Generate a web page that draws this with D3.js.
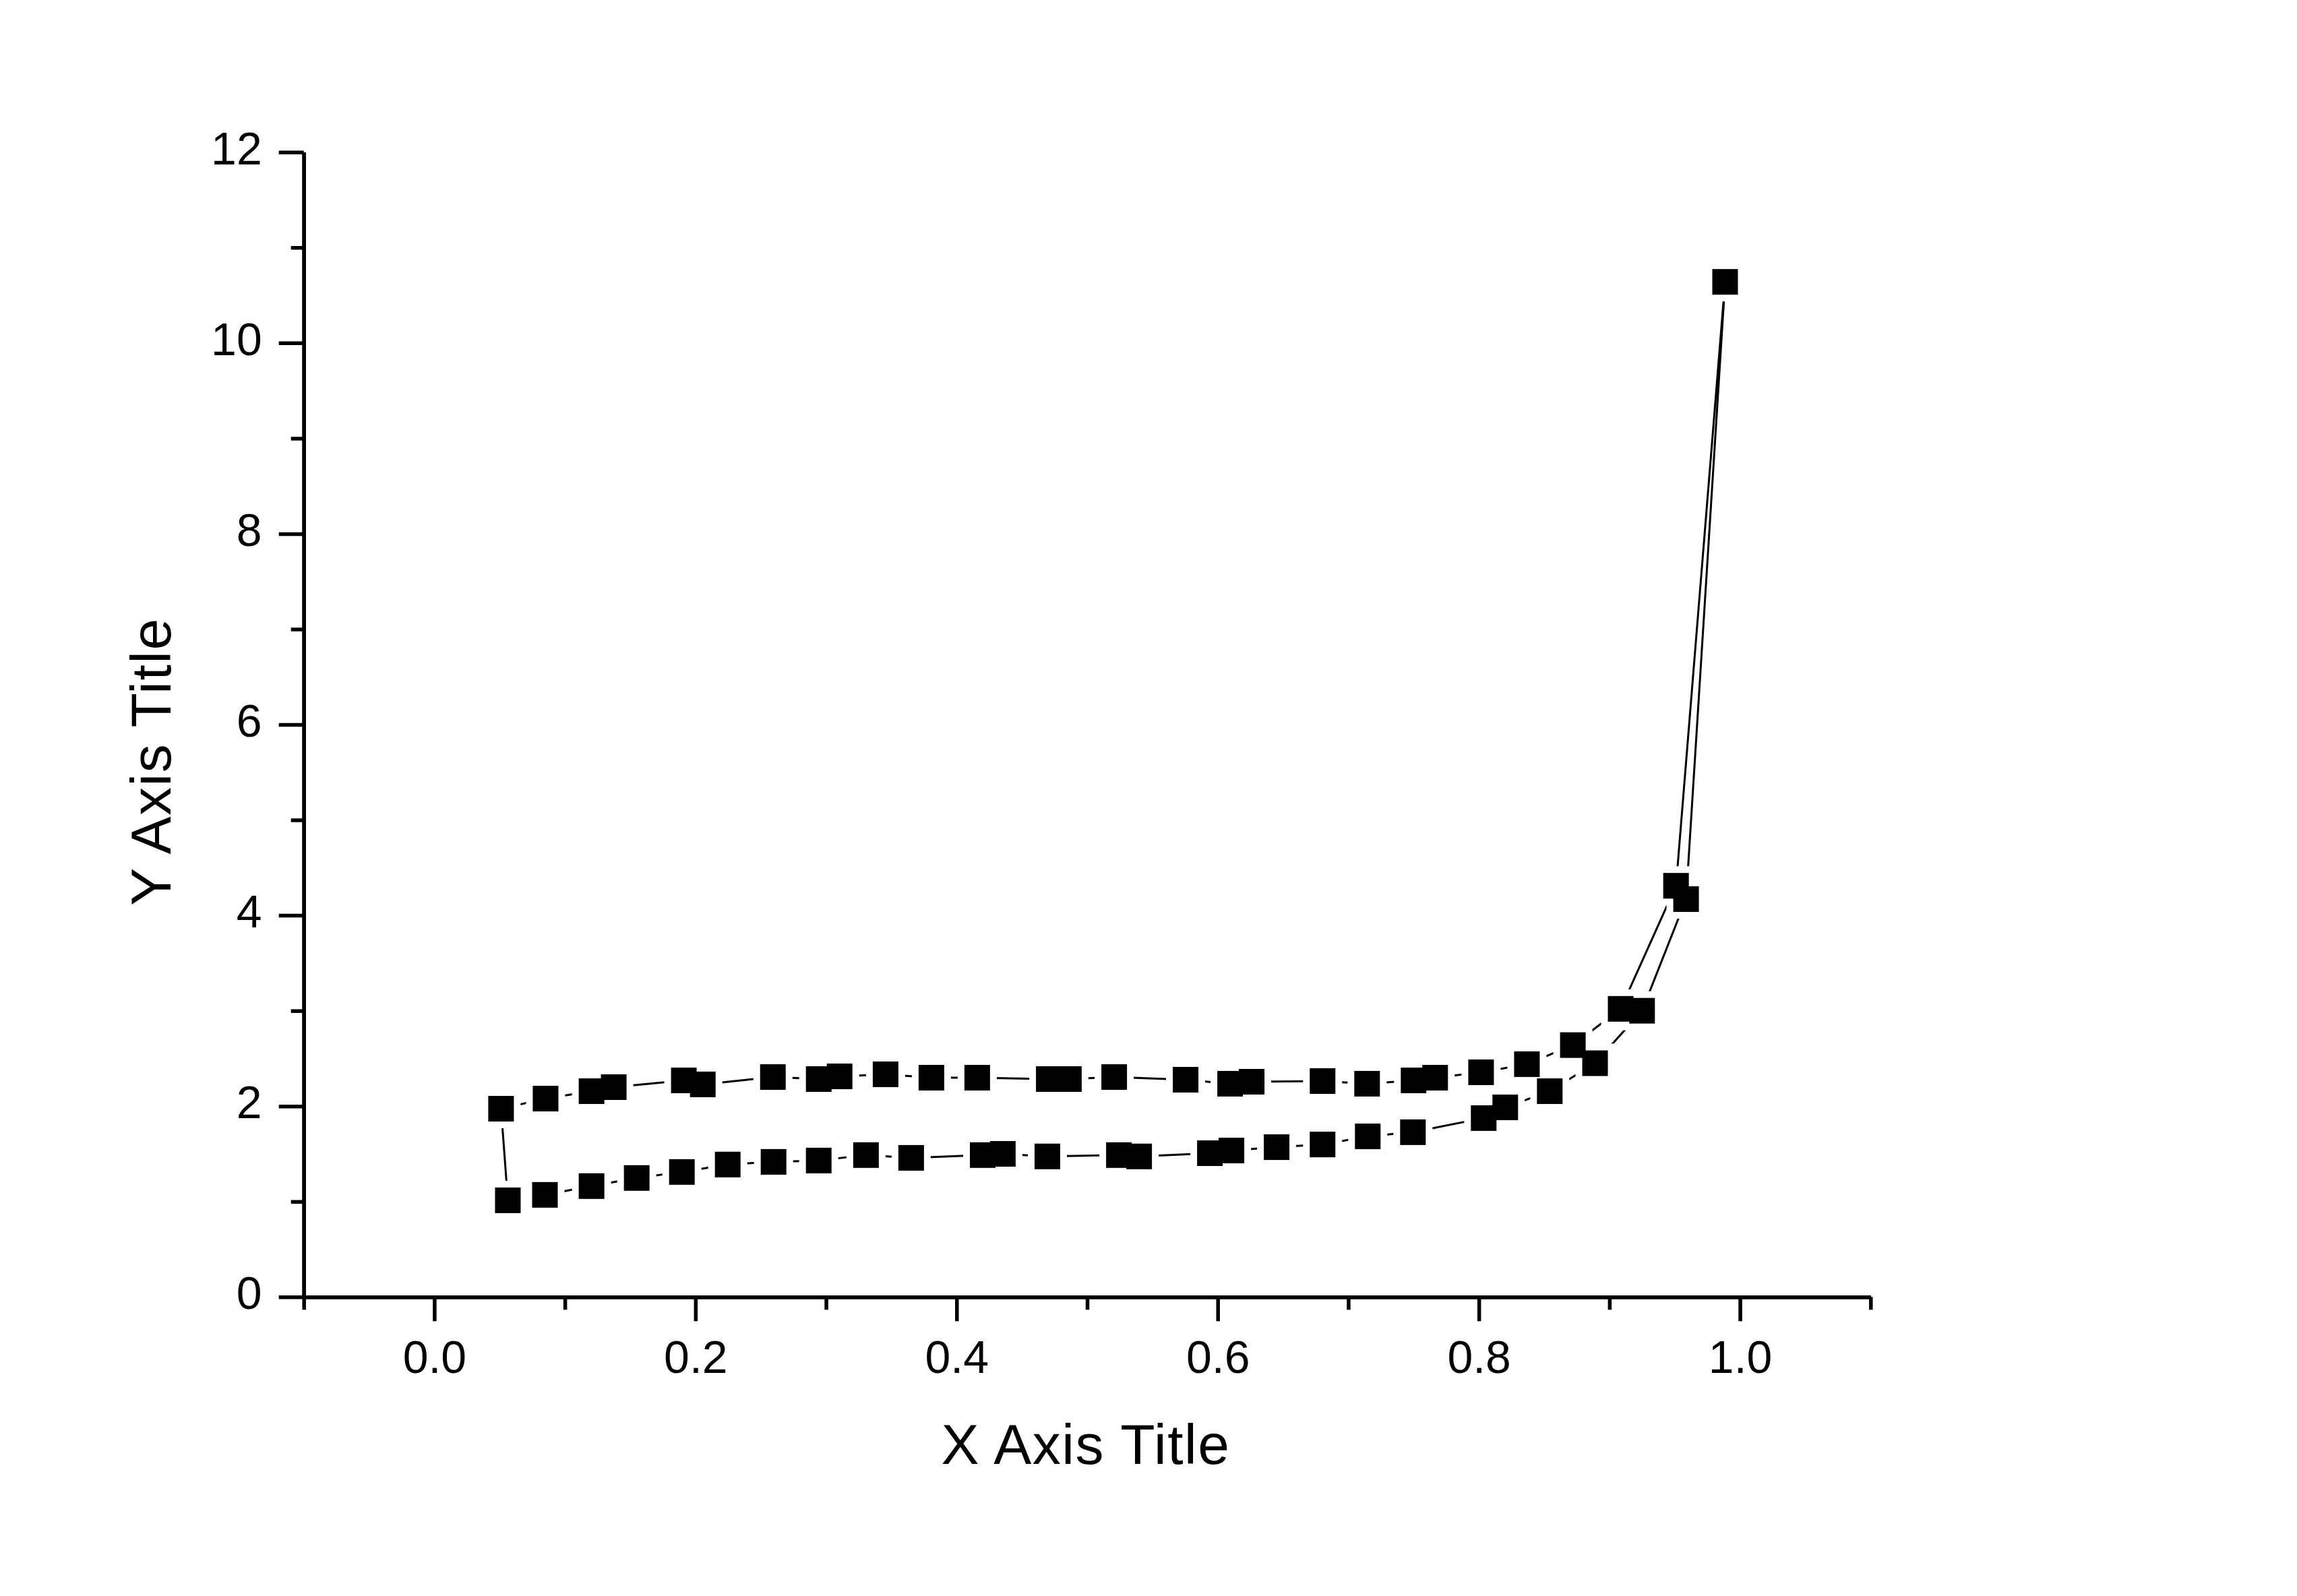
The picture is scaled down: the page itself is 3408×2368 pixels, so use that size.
<!DOCTYPE html>
<html>
<head>
<meta charset="utf-8">
<script src="https://cdn.jsdelivr.net/npm/d3@7"></script>
<style>
  html, body { margin: 0; padding: 0; background: #fff; }
  svg { display: block; }
  text { font-family: "Liberation Sans", Arial, sans-serif; fill: #000; }
</style>
</head>
<body>
<script>
// ---- data ----
const lowerX = [0.0563, 0.0847, 0.1204, 0.155, 0.1896, 0.2247, 0.2598, 0.2944, 0.3306, 0.3652,
                0.42, 0.4354, 0.4695, 0.5243, 0.5398, 0.594, 0.6105, 0.6451, 0.6803, 0.7149,
                0.7495, 0.8037, 0.8202, 0.8543, 0.889, 0.925, 0.9587];
const lowerY = [1.013, 1.07, 1.162, 1.247, 1.31, 1.388, 1.416, 1.43, 1.487, 1.458,
                1.487, 1.50, 1.473, 1.487, 1.473, 1.507, 1.535, 1.57, 1.598, 1.683,
                1.727, 1.875, 1.987, 2.157, 2.45, 3.00, 4.17];
const peakX = [0.9886];
const peakY = [10.64];
const upperX = [0.951, 0.9086, 0.872, 0.8368, 0.8017, 0.7665, 0.75, 0.7144, 0.6803, 0.626,
                0.6095, 0.5754, 0.5207, 0.486, 0.4706, 0.4158, 0.3807, 0.3456, 0.3104, 0.2944,
                0.2593, 0.2056, 0.1911, 0.1374, 0.1204, 0.0852, 0.0511];
const upperY = [4.31, 3.02, 2.64, 2.44, 2.355, 2.298, 2.27, 2.235, 2.263, 2.256,
                2.235, 2.277, 2.305, 2.284, 2.284, 2.298, 2.298, 2.334, 2.312, 2.284,
                2.305, 2.228, 2.27, 2.199, 2.157, 2.079, 1.973];

const xMajorTicks = [0.0, 0.2, 0.4, 0.6, 0.8, 1.0];
const xMinorTicks = [-0.1, 0.1, 0.3, 0.5, 0.7, 0.9, 1.1];
const yMajorTicks = [0, 2, 4, 6, 8, 10, 12];
const yMinorTicks = [1, 3, 5, 7, 9, 11];
const xTitle = "X Axis Title";
const yTitle = "Y Axis Title";

// ---- layout ----
const W = 3408, H = 2368;
const plotLeft = 450.7, plotRight = 2775.3, plotTop = 225.7, plotBottom = 1924.3;
const fontTick = 68, fontTitle = 84;
const axisW = 5.5, lineW = 3, markerSize = 38, gap = 10;

const svg = d3.select("body").append("svg")
  .attr("width", W).attr("height", H)
  .attr("viewBox", `0 0 ${W} ${H}`);
svg.append("rect").attr("width", W).attr("height", H).attr("fill", "#fff");

const x = d3.scaleLinear().domain([-0.1, 1.1]).range([plotLeft, plotRight]);
const y = d3.scaleLinear().domain([0, 12]).range([plotBottom, plotTop]);

// ---- data path ----
const pts = [];
lowerX.forEach((v, i) => pts.push([v, lowerY[i]]));
peakX.forEach((v, i) => pts.push([v, peakY[i]]));
upperX.forEach((v, i) => pts.push([v, upperY[i]]));

const line = d3.line().x(d => x(d[0])).y(d => y(d[1])).curve(d3.curveLinearClosed);
svg.append("path").attr("d", line(pts))
  .attr("fill", "none").attr("stroke", "#000").attr("stroke-width", lineW)
  .attr("stroke-linejoin", "round");

// gaps around markers
svg.append("g").selectAll("rect").data(pts).join("rect")
  .attr("x", d => x(d[0]) - markerSize / 2 - gap)
  .attr("y", d => y(d[1]) - markerSize / 2 - gap)
  .attr("width", markerSize + 2 * gap).attr("height", markerSize + 2 * gap)
  .attr("fill", "#fff");
// markers
svg.append("g").selectAll("rect").data(pts).join("rect")
  .attr("x", d => x(d[0]) - markerSize / 2)
  .attr("y", d => y(d[1]) - markerSize / 2)
  .attr("width", markerSize).attr("height", markerSize)
  .attr("fill", "#000");

// ---- axes ----
function styleAxis(g) {
  g.selectAll("path.domain").attr("stroke", "#000").attr("stroke-width", axisW);
  g.selectAll(".tick line").attr("stroke", "#000").attr("stroke-width", axisW);
  g.selectAll(".tick text").attr("font-size", fontTick)
    .attr("font-family", '"Liberation Sans", Arial, sans-serif').attr("fill", "#000");
}

const gxMinor = svg.append("g").attr("transform", `translate(0,${plotBottom})`)
  .call(d3.axisBottom(x).tickValues(xMinorTicks).tickSize(19).tickSizeOuter(0).tickFormat(""));
styleAxis(gxMinor);
const gx = svg.append("g").attr("transform", `translate(0,${plotBottom})`)
  .call(d3.axisBottom(x).tickValues(xMajorTicks).tickSize(36).tickSizeOuter(0)
    .tickPadding(28).tickFormat(d3.format(".1f")));
styleAxis(gx);

const gyMinor = svg.append("g").attr("transform", `translate(${plotLeft},0)`)
  .call(d3.axisLeft(y).tickValues(yMinorTicks).tickSize(19).tickSizeOuter(0).tickFormat(""));
styleAxis(gyMinor);
const gy = svg.append("g").attr("transform", `translate(${plotLeft},0)`)
  .call(d3.axisLeft(y).tickValues(yMajorTicks).tickSize(37).tickSizeOuter(0)
    .tickPadding(25).tickFormat(d3.format("d")));
styleAxis(gy);
gy.selectAll(".tick text").attr("dy", "0.26em");

// ---- titles ----
svg.append("text").attr("x", 1611).attr("y", 2172)
  .attr("text-anchor", "middle").attr("font-size", fontTitle)
  .attr("letter-spacing", 1.5).text(xTitle);
svg.append("text").attr("transform", "translate(253,1130) rotate(-90)")
  .attr("text-anchor", "middle").attr("font-size", fontTitle)
  .attr("letter-spacing", 1.5).text(yTitle);
</script>
</body>
</html>
